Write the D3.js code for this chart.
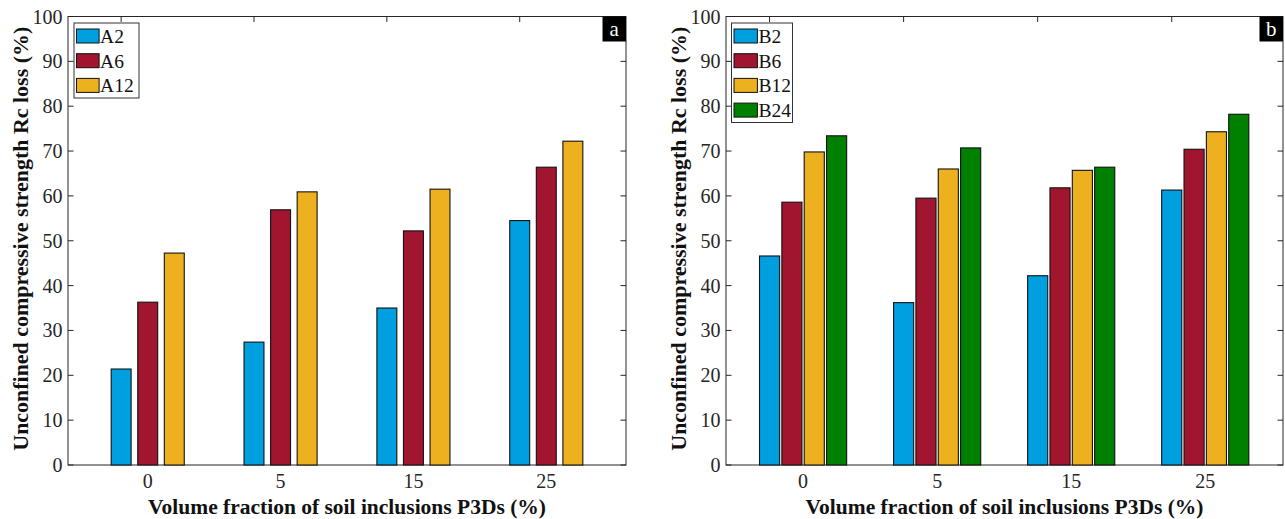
<!DOCTYPE html>
<html><head><meta charset="utf-8">
<script src="https://cdn.jsdelivr.net/npm/d3@7"></script>
<style>
body{margin:0;background:#fff;}
text{font-family:"Liberation Serif","DejaVu Serif",serif;}
</style></head>
<body><svg id="chart" width="1285" height="519"></svg>
<script>
// ---- data ----
const categories = ["0", "5", "15", "25"];
const seriesA = ["A2", "A6", "A12"];
const A2  = [21.4, 27.4, 35.0, 54.5];
const A6  = [36.3, 56.9, 52.2, 66.4];
const A12 = [47.25, 60.9, 61.5, 72.2];
const seriesB = ["B2", "B6", "B12", "B24"];
const B2  = [46.6, 36.2, 42.2, 61.3];
const B6  = [58.6, 59.5, 61.8, 70.4];
const B12 = [69.8, 66.0, 65.7, 74.3];
const B24 = [73.4, 70.7, 66.4, 78.2];
const yTicks = [0, 10, 20, 30, 40, 50, 60, 70, 80, 90, 100];
const xTitle = "Volume fraction of soil inclusions P3Ds (%)";
const yTitle = "Unconfined compressive strength Rc loss (%)";

const colors = ["#00A0E0", "#A2152F", "#EDB120", "#008000"];
const axisCol = "#262626";

const svg = d3.select("#chart");

const panels = [
  {left: 68, right: 626, xlim: [0.4, 4.6], names: seriesA, data: [A2, A6, A12], step: 0.2, tag: "a",
   legend: {x: 74, y: 23, w: 65, h: 75, swW: 22.6}, yTitleX: 20},
  {left: 726, right: 1283, xlim: [0.425, 4.58], names: seriesB, data: [B2, B6, B12, B24], step: 1/6, tag: "b",
   legend: {x: 731.5, y: 23, w: 61, h: 99.5, swW: 23.4}, yTitleX: 678}
];
const yTop = 16.5, yBottom = 465;

function fitText(sel, target) {
  const w = sel.node().getComputedTextLength();
  const fs = parseFloat(sel.attr("font-size"));
  sel.attr("font-size", fs * target / w);
}

panels.forEach(p => {
  const g = svg.append("g");
  const x = d3.scaleLinear().domain(p.xlim).range([p.left, p.right]);
  const y = d3.scaleLinear().domain([0, 100]).range([yBottom, yTop]);
  const n = p.data.length;
  const offs = d3.range(n).map(i => (i - (n - 1) / 2) * p.step);
  const barW = x(0.15) - x(0);

  g.append("rect").attr("x", p.left).attr("y", yTop).attr("width", p.right - p.left).attr("height", yBottom - yTop)
    .attr("fill", "none").attr("stroke", axisCol).attr("stroke-width", 1);

  yTicks.forEach(t => {
    g.append("line").attr("x1", p.left).attr("x2", p.left + 5.5).attr("y1", y(t)).attr("y2", y(t)).attr("stroke", axisCol);
    g.append("line").attr("x1", p.right).attr("x2", p.right - 5.5).attr("y1", y(t)).attr("y2", y(t)).attr("stroke", axisCol);
    g.append("text").attr("x", p.left - 5.5).attr("y", y(t)).attr("dy", "0.35em").attr("text-anchor", "end")
      .attr("font-size", 20).attr("fill", axisCol).text(t);
  });

  categories.forEach((c, i) => {
    const tx = x(i + 1 + offs[0]);
    g.append("line").attr("x1", tx).attr("x2", tx).attr("y1", yTop).attr("y2", yTop + 5.5).attr("stroke", axisCol);
    g.append("line").attr("x1", tx).attr("x2", tx).attr("y1", yBottom).attr("y2", yBottom - 5.5).attr("stroke", axisCol);
    g.append("text").attr("x", x(i + 1)).attr("y", 481).attr("dy", "0.35em").attr("text-anchor", "middle")
      .attr("font-size", 20).attr("fill", axisCol).text(c);
  });

  p.data.forEach((vals, s) => {
    g.selectAll(null).data(vals).join("rect")
      .attr("x", (d, i) => x(i + 1 + offs[s]) - barW / 2)
      .attr("y", d => y(d))
      .attr("width", barW)
      .attr("height", d => y(0) - y(d))
      .attr("fill", colors[s]).attr("stroke", "#111").attr("stroke-width", 1.1);
  });

  const xt = g.append("text").attr("x", (p.left + p.right) / 2).attr("y", 506).attr("dy", "0.35em")
    .attr("text-anchor", "middle").attr("font-weight", "bold").attr("font-size", 18).attr("fill", "#111").text(xTitle);
  fitText(xt, 398);
  const yt = g.append("text").attr("transform", `translate(${p.yTitleX},${(yTop + yBottom) / 2 - 2}) rotate(-90)`)
    .attr("dy", "0.35em").attr("text-anchor", "middle").attr("font-weight", "bold").attr("font-size", 18)
    .attr("fill", "#111").text(yTitle);
  fitText(yt, 424);

  const L = p.legend;
  g.append("rect").attr("x", L.x).attr("y", L.y).attr("width", L.w).attr("height", L.h)
    .attr("fill", "#fff").attr("stroke", "#333").attr("stroke-width", 1);
  p.names.forEach((nm, i) => {
    const cy = 36 + i * 24.7;
    g.append("rect").attr("x", L.x + 2.5).attr("y", cy - 7).attr("width", L.swW).attr("height", 14)
      .attr("fill", colors[i]).attr("stroke", "#111").attr("stroke-width", 1);
    g.append("text").attr("x", L.x + 2.5 + L.swW + 1).attr("y", cy).attr("dy", "0.35em")
      .attr("font-size", 19.5).attr("fill", "#111").text(nm);
  });

  g.append("rect").attr("x", p.right - 23.5).attr("y", yTop).attr("width", 23.5).attr("height", 25).attr("fill", "#000");
  g.append("text").attr("x", p.right - 11.75).attr("y", yTop + 12.5).attr("dy", "0.32em").attr("text-anchor", "middle")
    .attr("font-size", 21).attr("fill", "#fff").text(p.tag);
});
</script>
</body></html>
